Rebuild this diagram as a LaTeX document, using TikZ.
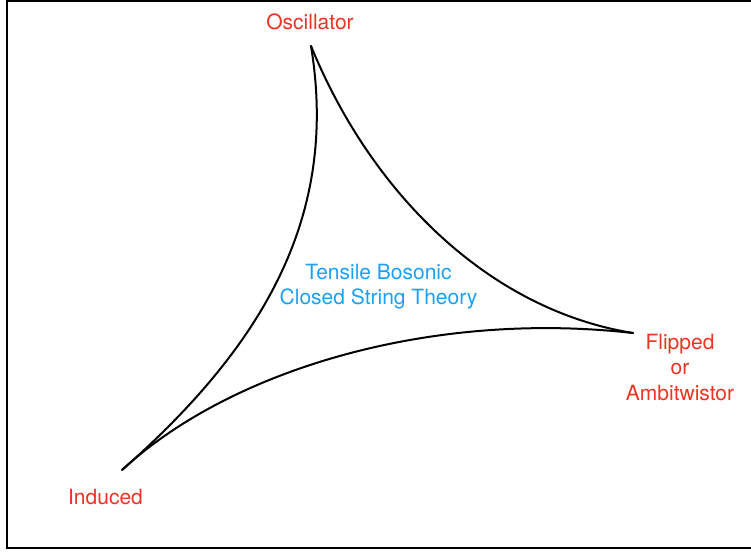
\documentclass[tikz,border=0pt]{standalone}
\usepackage{fontspec}
\setmainfont{TeX Gyre Heros}
\definecolor{lblred}{RGB}{236,52,36}
\definecolor{lblblue}{RGB}{28,160,246}
\tikzset{
  lbl/.style={text=lblred, font=\fontsize{21}{25.3}\selectfont, anchor=base, align=center, inner sep=0pt},
  inner/.style={text=lblblue, font=\fontsize{21}{24.5}\selectfont, anchor=base, align=center, inner sep=0pt},
  edge/.style={draw=black, line width=2pt, line cap=round},
  frame/.style={draw=black, line width=2.3pt}
}
\begin{document}
\begin{tikzpicture}[x=1pt,y=-1pt]
\useasboundingbox (0,0) rectangle (751,552);
\clip (0,0) rectangle (751,552);
\draw[frame] (7,1) rectangle (780,548);
% cusps
\coordinate (O) at (311,46);
\coordinate (F) at (633,333);
\coordinate (I) at (122,470);
\draw[edge] (O) .. controls (338,210) and (270,340) .. (I);
\draw[edge] (O) .. controls (372,195) and (490,310) .. (F);
\draw[edge] (I) .. controls (230,370) and (430,310) .. (F);
% labels
\node[lbl] (osc) at (310,29.5) {Oscillator};
\node[lbl] (ind) at (105.5,504) {Induced};
\node[lbl] (flip) at (680,400) {Flipped\\or\\Ambitwistor};
\node[inner] (theory) at (378.5,304.3) {Tensile Bosonic\\Closed String Theory};
\end{tikzpicture}
\end{document}
